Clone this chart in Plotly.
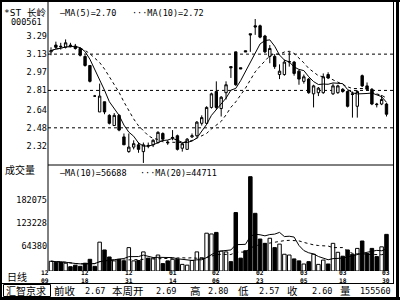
import plotly.graph_objects as go
import pandas as pd

# ---------------- data ----------------
STOCK_NAME = "*ST 长岭"
STOCK_CODE = "000561"

OPEN = [3.15, 3.21, 3.20, 3.19, 3.21, 3.20, 3.18, 3.11, 3.03, 2.76,
        2.62, 2.71, 2.59, 2.50, 2.59, 2.40, 2.27, 2.31, 2.33, 2.27,
        2.325, 2.33, 2.35, 2.43, 2.355, 2.39, 2.41, 2.30, 2.29, 2.40,
        2.41, 2.52, 2.52, 2.66, 2.80, 2.65, 2.79, 3.02, 3.15, 3.01,
        3.16, 3.31, 3.38, 3.38, 3.29, 3.11, 3.11, 2.95, 2.95, 3.06,
        3.06, 2.98, 2.89, 2.91, 2.78, 2.79, 2.79, 2.95, 2.78, 2.79,
        2.82, 2.80, 2.78, 2.67, 2.94, 2.85, 2.82, 2.69, 2.69, 2.69]
HIGH = [3.19, 3.24, 3.23, 3.26, 3.23, 3.22, 3.19, 3.12, 3.03, 2.77,
        2.87, 2.71, 2.60, 2.61, 2.60, 2.43, 2.43, 2.37, 2.35, 2.35,
        2.35, 2.38, 2.45, 2.44, 2.37, 2.46, 2.42, 2.35, 2.39, 2.43,
        2.54, 2.59, 2.67, 2.79, 2.89, 2.76, 2.89, 3.02, 3.15, 3.01,
        3.16, 3.31, 3.44, 3.39, 3.30, 3.21, 3.13, 3.04, 3.08, 3.15,
        3.07, 2.99, 2.95, 2.92, 2.86, 2.84, 2.96, 2.97, 2.87, 2.86,
        2.83, 2.81, 2.80, 2.81, 2.95, 2.88, 2.83, 2.70, 2.77, 2.70]
LOW = [3.12, 3.17, 3.17, 3.18, 3.19, 3.17, 3.11, 3.02, 2.88, 2.76,
       2.62, 2.60, 2.51, 2.50, 2.45, 2.33, 2.26, 2.29, 2.26, 2.17,
       2.30, 2.31, 2.34, 2.36, 2.33, 2.37, 2.28, 2.27, 2.29, 2.39,
       2.40, 2.50, 2.51, 2.65, 2.64, 2.58, 2.73, 2.92, 2.85, 3.00,
       3.15, 3.15, 3.30, 3.27, 3.14, 3.05, 3.00, 2.91, 2.94, 3.02,
       2.94, 2.86, 2.87, 2.78, 2.66, 2.76, 2.78, 2.91, 2.77, 2.78,
       2.79, 2.66, 2.57, 2.57, 2.84, 2.81, 2.68, 2.66, 2.68, 2.58]
CLOSE = [3.16, 3.19, 3.195, 3.23, 3.205, 3.18, 3.12, 3.03, 2.89, 2.76,
         2.76, 2.62, 2.52, 2.59, 2.46, 2.33, 2.31, 2.34, 2.29, 2.33,
         2.32, 2.37, 2.44, 2.38, 2.35, 2.395, 2.29, 2.34, 2.38, 2.41,
         2.53, 2.57, 2.66, 2.78, 2.66, 2.75, 2.86, 3.01, 2.86, 3.00,
         3.15, 3.30, 3.37, 3.28, 3.15, 3.18, 3.02, 2.98, 3.06, 3.065,
         2.96, 2.91, 2.93, 2.79, 2.85, 2.83, 2.93, 2.92, 2.85, 2.85,
         2.80, 2.67, 2.775, 2.80, 2.85, 2.82, 2.69, 2.685, 2.73, 2.60]
VOLUME = [25000, 22000, 23000, 20000, 11000, 15000, 12000, 20000, 30000, 12000,
          74000, 54000, 36000, 26000, 30000, 26000, 60000, 26000, 27000, 49000,
          33000, 33000, 41000, 19000, 26000, 30000, 30000, 17000, 15000, 27000,
          49000, 34000, 97000, 95000, 99000, 51000, 49000, 24000, 150000, 33000,
          52000, 242000, 148000, 82000, 71000, 84000, 60000, 69000, 43000, 41000,
          31000, 26000, 18000, 24000, 43000, 17000, 28000, 18000, 71000, 48000,
          38000, 54000, 43000, 58000, 77000, 45000, 58000, 37000, 62000, 94000]

PRICE_TICKS = [3.29, 3.13, 2.97, 2.81, 2.64, 2.48, 2.32]
PRICE_GRID = [3.13, 2.81, 2.48]
VOLUME_TICKS = [182075, 123228, 64380]
DATE_LABELS = ["12/09", "12/18", "12/31", "01/14", "02/06",
               "02/23", "03/05", "03/18", "03/30"]
DATE_BARS = [0, 7, 16, 25, 34, 43, 52, 60, 69]

PRICE_MA_TEXT = ["MA(5)=2.70", "MA(10)=2.72"]
VOLUME_MA_TEXT = ["MA(10)=56688", "MA(20)=44711"]
PANEL_LABELS = ["成交量", "日线"]
BRAND = "汇智京求"
INFO_LABELS = ["前收", "本周开", "高", "低", "收", "量"]
INFO_VALUES = ["2.67", "2.69", "2.80", "2.57", "2.60", "155560"]

# ---------------- layout helpers ----------------
W, H = 400, 300
L, R, T, B = 48, 393, 2, 271
PW, PH = R - L, B - T
SPLIT = 165


def fx(px):
    return (px - L) / PW


def fy(py):
    return (B - py) / PH


MONO = "DejaVu Sans Mono"
CJK = "Noto Sans CJK SC"
MIX = "DejaVu Sans Mono, Noto Sans CJK SC"

idx = list(range(len(CLOSE)))
close_s = pd.Series(CLOSE)
vol_s = pd.Series(VOLUME)
ma5 = close_s.rolling(5, min_periods=1).mean()
ma10 = close_s.rolling(10, min_periods=1).mean()
vma10 = vol_s.rolling(10, min_periods=1).mean()
vma20 = vol_s.rolling(20, min_periods=1).mean()
vol_colors = ["white" if c > o else "black" for o, c in zip(OPEN, CLOSE)]

fig = go.Figure()
fig.add_trace(go.Candlestick(
    x=idx, open=OPEN, high=HIGH, low=LOW, close=CLOSE,
    increasing=dict(line=dict(color="black", width=1), fillcolor="white"),
    decreasing=dict(line=dict(color="black", width=1), fillcolor="black"),
    whiskerwidth=0, xaxis="x", yaxis="y", hoverinfo="skip"))
fig.add_trace(go.Scatter(x=idx, y=ma5, mode="lines",
                         line=dict(color="black", width=1),
                         xaxis="x", yaxis="y", hoverinfo="skip"))
fig.add_trace(go.Scatter(x=idx, y=ma10, mode="lines",
                         line=dict(color="black", width=1, dash="dot"),
                         xaxis="x", yaxis="y", hoverinfo="skip"))
fig.add_trace(go.Bar(x=idx, y=VOLUME, width=0.72,
                     marker=dict(color=vol_colors,
                                 line=dict(color="black", width=1)),
                     xaxis="x2", yaxis="y2", hoverinfo="skip"))
fig.add_trace(go.Scatter(x=idx, y=vma10, mode="lines",
                         line=dict(color="black", width=1),
                         xaxis="x2", yaxis="y2", hoverinfo="skip"))
fig.add_trace(go.Scatter(x=idx, y=vma20, mode="lines",
                         line=dict(color="black", width=1, dash="dot"),
                         xaxis="x2", yaxis="y2", hoverinfo="skip"))

split_dom = fy(SPLIT)
xr = [-0.62, len(CLOSE) - 1 + 1.34]
axis_common = dict(showgrid=False, zeroline=False, showline=False,
                   fixedrange=True)
fig.update_layout(
    width=W, height=H,
    margin=dict(l=L, r=W - R, t=T, b=H - B, pad=0),
    paper_bgcolor="white", plot_bgcolor="white",
    showlegend=False, dragmode=False,
    xaxis=dict(domain=[0, 1], anchor="y", range=xr, showticklabels=False,
               rangeslider=dict(visible=False), **axis_common),
    xaxis2=dict(domain=[0, 1], anchor="y2", range=xr, matches="x",
                showticklabels=False, **axis_common),
    yaxis=dict(domain=[split_dom, 1], anchor="x", range=[2.152, 3.59],
               tickvals=PRICE_TICKS, ticktext=[f"{v:.2f}" for v in PRICE_TICKS],
               tickfont=dict(family=MONO, size=8.5, color="black"),
               ticks="", **axis_common),
    yaxis2=dict(domain=[0, split_dom], anchor="x2", range=[0, 272000],
                tickvals=VOLUME_TICKS, ticktext=[str(v) for v in VOLUME_TICKS],
                tickfont=dict(family=MONO, size=8.5, color="black"),
                ticks="", **axis_common),
)

# dotted price grid lines
for g in PRICE_GRID:
    fig.add_shape(type="line", xref="paper", yref="y", x0=0, x1=1, y0=g, y1=g,
                  line=dict(color="black", width=1, dash="dot"), layer="below")


# frame lines
def hline(y, x0, x1, w=1):
    fig.add_shape(type="line", xref="paper", yref="paper",
                  x0=fx(x0), x1=fx(x1), y0=fy(y), y1=fy(y),
                  line=dict(color="black", width=w))


def vline(x, y0, y1, w=1):
    fig.add_shape(type="line", xref="paper", yref="paper",
                  x0=fx(x), x1=fx(x), y0=fy(y0), y1=fy(y1),
                  line=dict(color="black", width=w))


vline(L, 0, B)                 # left edge of chart area
hline(SPLIT, L, R)             # price / volume separator
vline(R + 0.5, 0, 284)         # inner right border
hline(283.5, 0, R + 0.5)       # info bar separator
vline(1, 0, 300, 2)            # outer left
hline(1, 0, 400, 2)            # outer top
vline(397.5, 0, 300, 3)        # outer right
hline(298.5, 0, 400, 3)        # outer bottom
fig.add_shape(type="rect", xref="paper", yref="paper",
              x0=fx(3.5), x1=fx(50.5), y0=fy(296.5), y1=fy(284.5),
              line=dict(color="black", width=1))


def text(s, x, y, size=8.5, family=MONO, anchor="left"):
    fig.add_annotation(text=s, xref="paper", yref="paper", x=fx(x), y=fy(y),
                       xanchor=anchor, yanchor="middle", showarrow=False,
                       font=dict(family=family, size=size, color="black"),
                       borderpad=0)


# left column labels
text(STOCK_NAME, 3, 12, size=9.5, family=MIX)
text(STOCK_CODE, 10, 22, size=8.5)
text(PANEL_LABELS[0], 4, 169, size=10, family=CJK)
text(PANEL_LABELS[1], 6, 276, size=10, family=CJK)

# MA legends
text("—" + PRICE_MA_TEXT[0], 59, 13)
text("···" + PRICE_MA_TEXT[1], 131, 13)
text("—" + VOLUME_MA_TEXT[0], 59, 172.5)
text("···" + VOLUME_MA_TEXT[1], 139, 172.5)

# date labels under the volume panel (month over day)
for lab, b in zip(DATE_LABELS, DATE_BARS):
    m, d = lab.split("/")
    shift = -6 if b == 0 else 0
    fig.add_annotation(text=f"<b>{m}<br>{d}</b>", xref="x2", yref="paper",
                       x=b, y=fy(276.8), xshift=shift, yanchor="middle",
                       showarrow=False, borderpad=0,
                       font=dict(family=MONO, size=6.3, color="black"))

# bottom info bar
text(BRAND, 5, 290.5, size=10, family=CJK)
label_x = [53, 111, 189, 237, 286, 339]
value_x = [106, 177, 229, 280, 333, 392]
for lab, lx in zip(INFO_LABELS, label_x):
    text(lab, lx, 290.5, size=10.5, family=CJK)
for val, vx in zip(INFO_VALUES, value_x):
    text(val, vx, 290.5, size=8.5, anchor="right")

fig.write_html("out.html")
